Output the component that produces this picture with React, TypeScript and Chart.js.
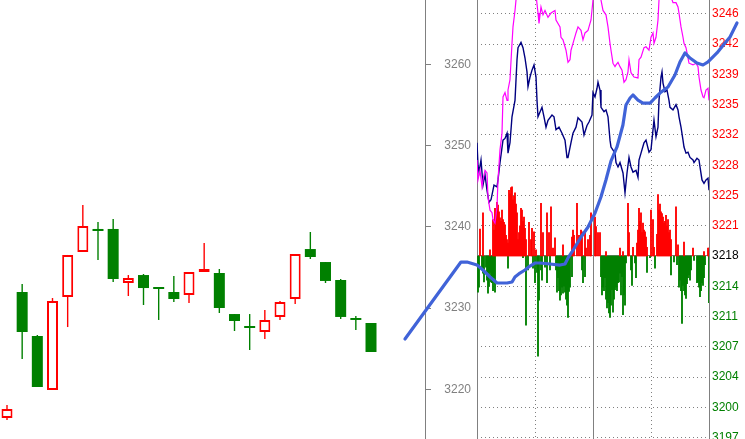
import React, { useEffect, useRef } from "react";
import { Chart, registerables } from "chart.js";
Chart.register(...registerables);

const FONT = '"Liberation Sans", Arial, Helvetica, sans-serif';
const GRAY = "#808080";
const UP = "#ff0000";
const DOWN = "#008000";
const NAVY = "#000080";
const PINK = "#ff00ff";
const BLUE = "#4063d8";

// ---- Left panel: candles (open / high / low / close), priced on the middle axis
const candleOpen = [3216.46, 3231.97, 3226.56, 3219.91, 3231.36, 3236.9, 3239.73, 3239.73, 3233.08, 3234.06, 3232.59, 3231.97, 3231.6, 3234.43, 3234.31, 3229.26, 3227.79, 3227.05, 3228.9, 3231.11, 3237.26, 3235.66, 3233.45, 3228.77, 3228.16];
const candleHigh = [3218.06, 3232.96, 3226.68, 3231.23, 3236.53, 3242.68, 3240.59, 3240.96, 3234.06, 3234.19, 3232.59, 3233.94, 3234.43, 3238.0, 3234.8, 3229.26, 3229.26, 3229.76, 3230.86, 3236.65, 3239.36, 3235.66, 3233.57, 3229.02, 3228.16];
const candleLow = [3216.22, 3223.73, 3220.28, 3219.91, 3227.66, 3236.9, 3235.91, 3233.2, 3231.48, 3230.37, 3228.53, 3230.74, 3230.62, 3234.43, 3229.39, 3227.17, 3224.83, 3226.19, 3228.53, 3230.5, 3236.03, 3233.08, 3228.65, 3227.3, 3224.59];
const candleClose = [3217.57, 3227.05, 3220.28, 3230.86, 3236.53, 3240.1, 3239.48, 3233.57, 3233.69, 3232.46, 3232.34, 3231.11, 3234.43, 3234.8, 3230.0, 3228.4, 3227.54, 3228.53, 3230.74, 3236.65, 3236.28, 3233.33, 3228.9, 3228.53, 3224.59];

// middle axis ticks
const midTicks = [3220, 3230, 3240, 3250, 3260];

// ---- Blue trend line (position in candle units, price on middle axis)
const trendX = [26.24, 29.93, 30.33, 30.99, 31.38, 31.85, 32.31, 32.97, 33.3, 33.49, 33.82, 34.15, 34.48, 34.81, 35.14, 35.8, 36.46, 36.79, 36.99, 37.25, 37.85, 38.31, 38.77, 39.16, 39.49, 39.82, 40.22, 40.61, 40.81, 41.08, 41.27, 41.6, 41.93, 42.4, 42.72, 43.05, 43.58, 44.04, 44.37, 44.7, 45.03, 45.49, 45.89, 46.22, 46.81, 47.34, 47.67, 48.13];
const trendY = [3226.19, 3235.66, 3235.66, 3235.29, 3234.68, 3233.82, 3233.08, 3233.08, 3233.2, 3233.82, 3234.31, 3234.68, 3235.17, 3235.54, 3235.54, 3235.42, 3235.29, 3235.42, 3236.16, 3236.9, 3238.74, 3239.97, 3241.69, 3243.66, 3245.76, 3248.09, 3249.82, 3252.53, 3254.99, 3255.85, 3256.22, 3255.6, 3255.23, 3255.23, 3255.85, 3256.46, 3257.2, 3258.68, 3260.28, 3261.39, 3260.77, 3260.16, 3259.91, 3260.28, 3261.39, 3262.62, 3263.36, 3265.08];

// ---- Right panel: intraday (sample index, value on right axis)
const BASE = 3218;
const rightTicks = [3197, 3200.5, 3204, 3207.5, 3211, 3214.5, 3218, 3221.5, 3225, 3228.5, 3232, 3235.5, 3239, 3242.5, 3246];
const rightLabels = ["3197", "3200", "3204", "3207", "3211", "3214", "3218", "3221", "3225", "3228", "3232", "3235", "3239", "3242", "3246"];
const sessionTicks = [0, 58, 116, 174, 232];

const navyLine = [[0,3231.1],[1,3228.5],[2,3227.7],[4,3229.1],[6,3226.2],[8,3227.4],[10,3225.6],[12,3224.2],[14,3224.5],[17,3226.2],[20,3226.0],[21,3226.8],[23,3228.8],[26,3231.4],[28,3231.6],[30,3232.2],[31,3229.9],[33,3231.1],[35,3234.1],[38,3236.0],[40,3240.7],[41,3242.1],[44,3242.7],[46,3242.1],[48,3240.9],[50,3239.3],[51,3237.6],[53,3238.7],[55,3239.5],[57,3240.1],[59,3238.7],[60,3236.0],[61,3234.1],[65,3235.2],[67,3234.1],[69,3232.9],[71,3233.7],[75,3234.3],[77,3234.1],[79,3232.6],[82,3232.9],[85,3232.2],[88,3231.4],[90,3229.4],[91,3229.4],[94,3231.1],[96,3232.2],[99,3232.9],[101,3234.0],[105,3233.5],[107,3232.0],[110,3233.1],[112,3233.5],[115,3234.3],[116,3236.9],[118,3236.4],[120,3237.4],[121,3238.1],[123,3237.2],[124,3235.2],[127,3234.7],[129,3234.9],[131,3234.1],[133,3231.4],[134,3230.6],[138,3229.9],[139,3228.8],[141,3228.3],[143,3228.8],[146,3227.6],[148,3225.3],[150,3227.6],[152,3229.4],[154,3228.3],[156,3227.7],[159,3227.9],[161,3227.1],[162,3229.1],[164,3229.9],[167,3231.1],[169,3231.4],[172,3230.0],[174,3230.3],[176,3232.6],[177,3233.7],[179,3231.8],[181,3232.9],[182,3236.0],[184,3238.7],[185,3239.3],[186,3238.0],[188,3237.0],[190,3237.2],[192,3236.0],[193,3235.2],[196,3234.9],[199,3235.5],[201,3234.9],[202,3234.1],[204,3232.9],[206,3231.4],[207,3230.6],[209,3229.9],[211,3230.0],[213,3229.4],[216,3229.1],[217,3228.8],[220,3229.3],[222,3229.1],[223,3228.3],[225,3226.8],[227,3226.4],[229,3226.8],[231,3227.0],[232,3225.6]];

const pinkLine = [[0,3229.1],[1,3226.8],[3,3227.9],[5,3226.0],[6,3226.8],[8,3227.9],[10,3227.6],[11,3224.8],[13,3223.3],[15,3223.0],[16,3222.2],[18,3221.8],[20,3223.7],[21,3226.8],[23,3230.3],[25,3232.2],[26,3236.4],[28,3236.9],[30,3236.0],[31,3237.2],[33,3238.4],[35,3242.6],[36,3244.5],[38,3246.4],[40,3248.8],[43,3250.5],[48,3251.7],[53,3251.1],[58,3249.3],[61,3246.1],[62,3244.9],[64,3246.8],[66,3245.9],[68,3246.4],[71,3245.6],[74,3246.1],[78,3246.4],[79,3245.3],[83,3244.5],[84,3243.3],[86,3243.0],[88,3242.2],[89,3241.8],[91,3240.4],[93,3240.7],[94,3241.8],[96,3242.6],[99,3243.8],[101,3244.5],[104,3244.1],[106,3243.0],[108,3243.8],[111,3244.1],[113,3244.9],[114,3245.3],[116,3247.6],[119,3248.8],[123,3248.2],[126,3246.4],[129,3245.9],[131,3244.5],[133,3242.6],[134,3241.8],[136,3240.3],[138,3239.9],[139,3240.1],[141,3240.4],[143,3239.9],[145,3239.5],[147,3238.1],[149,3238.4],[151,3239.3],[152,3240.7],[154,3239.2],[157,3238.7],[161,3238.6],[162,3240.7],[164,3241.0],[167,3242.1],[169,3242.2],[172,3241.8],[174,3243.3],[176,3243.8],[177,3242.6],[179,3243.3],[181,3245.3],[182,3247.6],[186,3249.3],[191,3249.0],[196,3247.3],[199,3247.3],[201,3246.8],[202,3246.1],[204,3244.5],[206,3243.3],[207,3242.6],[209,3242.1],[212,3240.3],[216,3240.1],[219,3240.3],[221,3239.9],[222,3238.7],[224,3237.2],[226,3236.4],[227,3236.3],[229,3237.2],[231,3237.4],[232,3236.0]];

const riseBars = [[3,3221.1],[6,3223.0],[13,3218.7],[16,3222.2],[17,3221.0],[18,3223.5],[19,3222.8],[20,3224.2],[21,3223.9],[22,3223.1],[23,3222.4],[24,3222.0],[25,3223.3],[26,3222.2],[27,3221.9],[28,3221.6],[29,3220.4],[30,3219.9],[31,3219.5],[32,3225.6],[33,3225.2],[34,3225.9],[35,3226.0],[36,3224.5],[37,3224.9],[38,3225.3],[39,3224.0],[40,3223.0],[41,3219.9],[42,3220.7],[43,3221.5],[44,3223.5],[45,3223.3],[46,3222.0],[47,3222.5],[48,3221.2],[49,3219.9],[52,3221.9],[54,3219.9],[55,3221.2],[57,3220.8],[59,3218.7],[64,3224.1],[66,3220.7],[70,3223.0],[72,3220.7],[74,3223.7],[76,3218.9],[78,3220.1],[86,3219.3],[95,3220.2],[96,3221.0],[97,3220.4],[100,3224.1],[102,3220.4],[104,3221.0],[105,3220.8],[108,3220.7],[109,3218.9],[111,3219.9],[113,3220.4],[114,3223.0],[118,3222.5],[119,3221.4],[121,3220.7],[123,3220.7],[129,3218.5],[143,3218.9],[146,3218.5],[151,3224.1],[152,3220.7],[156,3219.0],[160,3219.5],[161,3221.0],[162,3223.5],[163,3222.0],[164,3223.0],[165,3220.7],[166,3221.8],[167,3221.0],[168,3220.8],[169,3220.2],[170,3219.0],[174,3223.3],[176,3222.2],[177,3219.0],[180,3220.5],[181,3225.1],[182,3223.3],[183,3224.0],[184,3223.1],[185,3222.9],[186,3222.5],[187,3221.8],[188,3222.0],[189,3222.7],[190,3221.5],[191,3222.2],[192,3220.7],[193,3221.0],[194,3219.9],[199,3223.7],[201,3219.3],[207,3219.6],[216,3218.9],[227,3218.5],[231,3218.9],[232,3218.9]];

const fallBars = [[1,3213.8],[2,3214.4],[5,3216.7],[6,3216.0],[7,3215.0],[9,3216.7],[10,3215.2],[11,3213.7],[12,3214.5],[13,3216.1],[14,3215.0],[15,3214.9],[16,3214.0],[17,3215.5],[18,3213.8],[31,3216.6],[46,3217.8],[49,3210.0],[51,3216.4],[56,3216.6],[58,3214.9],[60,3216.1],[61,3206.4],[62,3212.9],[64,3216.4],[65,3215.2],[68,3216.7],[70,3214.9],[73,3216.4],[79,3216.4],[80,3213.8],[81,3215.5],[82,3214.0],[83,3212.9],[84,3213.5],[85,3214.4],[86,3213.7],[87,3214.5],[88,3213.8],[89,3213.0],[90,3212.3],[91,3210.9],[92,3213.9],[93,3214.4],[95,3215.6],[105,3216.4],[106,3214.9],[108,3215.6],[124,3215.6],[125,3213.5],[126,3214.4],[127,3214.0],[128,3215.5],[129,3213.0],[130,3212.0],[131,3212.6],[132,3211.4],[133,3210.9],[134,3212.3],[135,3214.1],[136,3211.5],[137,3213.0],[138,3214.1],[139,3214.4],[140,3214.0],[141,3214.9],[142,3215.0],[143,3216.0],[144,3213.5],[145,3215.6],[146,3211.2],[147,3213.5],[148,3212.3],[149,3217.2],[154,3216.4],[155,3214.6],[158,3217.2],[159,3215.5],[170,3216.1],[173,3217.8],[178,3216.6],[194,3215.8],[197,3217.3],[200,3217.0],[202,3214.4],[203,3215.2],[204,3214.0],[205,3210.2],[206,3214.6],[207,3214.0],[208,3213.5],[209,3213.1],[210,3214.8],[211,3215.5],[212,3215.8],[213,3215.2],[214,3216.4],[217,3217.5],[220,3214.9],[221,3215.0],[222,3214.4],[223,3213.3],[224,3214.0],[225,3214.9],[226,3214.6],[227,3215.5],[228,3217.0],[232,3212.6]];

// ---- scale geometry (value ranges)
const CANDLE_STEP_PX = 15.167;
const X_MIN = -7 / CANDLE_STEP_PX;
const X_MAX_LEFT = X_MIN + 425 / CANDLE_STEP_PX;
const X_MAX_WIDE = X_MIN + 745 / CANDLE_STEP_PX;
const MID_MIN = 3213.88;
const MID_MAX = 3267.91;
const RIGHT_MIN = 3196.83;
const RIGHT_MAX = 3247.61;

const common = {
  responsive: false,
  animation: false,
  devicePixelRatio: 1,
  events: [],
  layout: { padding: 0 },
  plugins: { legend: { display: false }, tooltip: { enabled: false } },
};

function fixWidth(w: number) {
  return (s: any) => {
    s.width = w;
    s.paddingTop = 0;
    s.paddingBottom = 0;
    s.paddingLeft = 0;
    s.paddingRight = 0;
  };
}

function candleConfig(): any {
  const idx = candleOpen.map((_, i) => i);
  const up = (i: number) => candleClose[i] >= candleOpen[i];
  return {
    type: "bar",
    data: {
      datasets: [
        {
          label: "body",
          order: 0,
          grouped: false,
          data: idx.map((i) => ({ x: i, y: [Math.min(candleOpen[i], candleClose[i]), Math.max(candleOpen[i], candleClose[i])] })),
          backgroundColor: idx.map((i) => (up(i) ? "#ffffff" : DOWN)),
          borderColor: idx.map((i) => (up(i) ? UP : DOWN)),
          borderWidth: idx.map((i) => (up(i) ? 2 : 0)),
          borderSkipped: false,
          barThickness: 11,
          maxBarThickness: 11,
          inflateAmount: 0,
        },
        {
          label: "wick",
          order: 1,
          grouped: false,
          data: idx.map((i) => ({ x: i, y: [candleLow[i], candleHigh[i]] })),
          backgroundColor: idx.map((i) => (up(i) ? UP : DOWN)),
          borderWidth: 0,
          barThickness: 1.4,
          maxBarThickness: 1.4,
          inflateAmount: 0,
        },
      ],
    },
    options: {
      ...common,
      scales: {
        x: {
          type: "linear",
          display: false,
          min: X_MIN,
          max: X_MAX_LEFT,
          offset: false,
          grid: { offset: false },
          ticks: { stepSize: 1, includeBounds: false },
          afterBuildTicks: (s: any) => {
            s.ticks = idx.map((v) => ({ value: v }));
          },
        },
        y: {
          type: "linear",
          position: "right",
          min: MID_MIN,
          max: MID_MAX,
          beginAtZero: false,
          afterBuildTicks: (s: any) => {
            s.ticks = midTicks.map((v) => ({ value: v }));
          },
          afterFit: fixWidth(46),
          grid: { drawOnChartArea: false, drawTicks: true, tickLength: 6, tickColor: GRAY, color: GRAY, tickWidth: 1 },
          border: { display: true, color: GRAY, width: 1 },
          ticks: {
            color: GRAY,
            crossAlign: "far",
            padding: 0,
            autoSkip: false,
            font: { family: FONT, size: 12 },
            callback: (v: any) => String(v),
          },
        },
      },
    },
  };
}

function intradayConfig(): any {
  return {
    type: "bar",
    data: {
      datasets: [
        {
          type: "line",
          label: "pink",
          order: 0,
          data: pinkLine.map(([x, y]) => ({ x, y })),
          borderColor: PINK,
          borderWidth: 1.2,
          pointRadius: 0,
          tension: 0,
          fill: false,
        },
        {
          type: "line",
          label: "navy",
          order: 1,
          data: navyLine.map(([x, y]) => ({ x, y })),
          borderColor: NAVY,
          borderWidth: 1.4,
          pointRadius: 0,
          tension: 0,
          fill: false,
        },
        {
          label: "rise",
          order: 2,
          grouped: false,
          data: riseBars.map(([x, v]) => ({ x, y: [BASE, v] })),
          backgroundColor: UP,
          borderWidth: 0,
          barThickness: 1.2,
          maxBarThickness: 1.2,
        },
        {
          label: "fall",
          order: 3,
          grouped: false,
          data: fallBars.map(([x, v]) => ({ x, y: [v, BASE] })),
          backgroundColor: DOWN,
          borderWidth: 0,
          barThickness: 1.2,
          maxBarThickness: 1.2,
        },
      ],
    },
    options: {
      ...common,
      scales: {
        x: {
          type: "linear",
          position: "bottom",
          min: 0,
          max: 232,
          offset: false,
          afterBuildTicks: (s: any) => {
            s.ticks = sessionTicks.map((v) => ({ value: v }));
          },
          afterFit: (s: any) => {
            s.height = 0;
            s.paddingLeft = 0;
            s.paddingRight = 0;
            s.paddingTop = 0;
            s.paddingBottom = 0;
          },
          ticks: { display: false },
          grid: { color: GRAY, drawTicks: false, offset: false, lineWidth: 1 },
          border: {
            display: false,
            dash: (c: any) => (c.index === 1 || c.index === 3 ? [1, 3] : []),
          },
        },
        y: {
          type: "linear",
          position: "right",
          min: RIGHT_MIN,
          max: RIGHT_MAX,
          beginAtZero: false,
          afterBuildTicks: (s: any) => {
            s.ticks = rightTicks.map((v) => ({ value: v }));
          },
          afterFit: fixWidth(36),
          grid: { color: GRAY, drawTicks: false, lineWidth: 1 },
          border: {
            display: true,
            color: GRAY,
            width: 1,
            dash: (c: any) => (c.tick && c.tick.value !== BASE ? [1, 3] : []),
          },
          ticks: {
            padding: 3,
            autoSkip: false,
            font: { family: FONT, size: 12 },
            color: (c: any) => {
              if (!c.tick) return "#000";
              return c.tick.value > BASE ? UP : c.tick.value < BASE ? DOWN : "#000000";
            },
            callback: (v: any) => {
              const k = rightTicks.indexOf(v);
              return k >= 0 ? rightLabels[k] : "";
            },
          },
        },
      },
    },
  };
}

function trendConfig(): any {
  return {
    type: "line",
    data: {
      datasets: [
        {
          label: "trend",
          data: trendX.map((x, i) => ({ x, y: trendY[i] })),
          borderColor: BLUE,
          borderWidth: 3.2,
          pointRadius: 0,
          tension: 0,
          fill: false,
          borderJoinStyle: "round",
          borderCapStyle: "round",
        },
      ],
    },
    options: {
      ...common,
      scales: {
        x: { type: "linear", display: false, min: X_MIN, max: X_MAX_WIDE },
        y: { type: "linear", display: false, min: MID_MIN, max: MID_MAX },
      },
    },
  };
}

export default function App() {
  const c1 = useRef<HTMLCanvasElement>(null);
  const c2 = useRef<HTMLCanvasElement>(null);
  const c3 = useRef<HTMLCanvasElement>(null);

  useEffect(() => {
    Chart.defaults.font.family = FONT;
    Chart.defaults.font.size = 12;
    const charts = [
      new Chart(c1.current as HTMLCanvasElement, candleConfig()),
      new Chart(c2.current as HTMLCanvasElement, intradayConfig()),
      new Chart(c3.current as HTMLCanvasElement, trendConfig()),
    ];
    return () => charts.forEach((c) => c.destroy());
  }, []);

  return (
    <div style={{ position: "fixed", left: 0, top: 0, width: 745, height: 439, background: "#ffffff", overflow: "hidden" }}>
      <canvas ref={c1} width={471} height={439} style={{ position: "absolute", left: 0, top: 0 }} />
      <canvas ref={c2} width={268} height={439} style={{ position: "absolute", left: 477, top: 0 }} />
      <canvas ref={c3} width={745} height={439} style={{ position: "absolute", left: 0, top: 0, pointerEvents: "none" }} />
    </div>
  );
}
